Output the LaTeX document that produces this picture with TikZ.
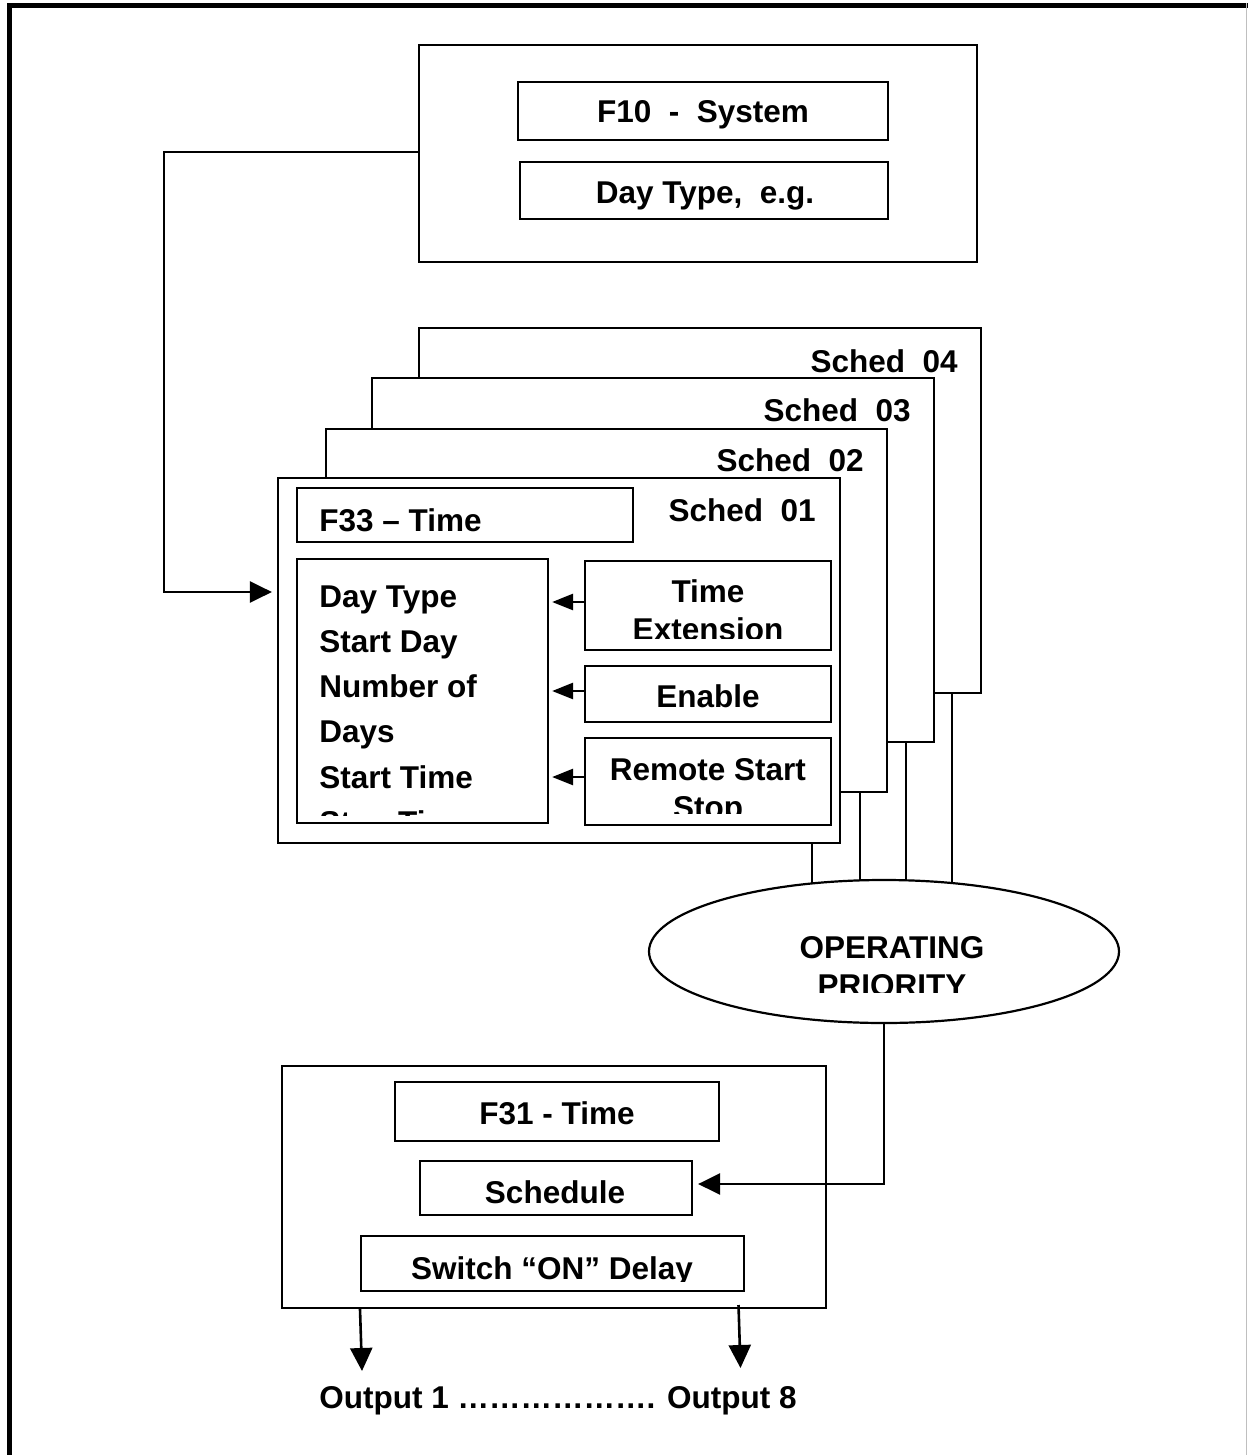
\documentclass[tikz,border=0pt]{standalone}
\usepackage{fontspec}
\setmainfont{Liberation Sans}
\usetikzlibrary{arrows.meta,fit,shapes.geometric}

\begin{document}
\begin{tikzpicture}[x=0.5pt,y=-0.5pt,
  box/.style={draw, line width=1.1pt, fill=white, inner sep=0pt},
  lbl/.style={font=\fontsize{15.75}{19}\selectfont\bfseries, inner sep=0pt},
  link/.style={line width=1.3pt},
  smalltip/.style={-{Triangle[length=10.5pt,width=8pt]}, shorten >=1.5pt},
  bigtip/.style={-{Triangle[length=11pt,width=10.5pt]}, shorten >=2.5pt},
  freetip/.style={-{Triangle[length=11.5pt,width=11pt]}}]

\useasboundingbox (0,0) rectangle (1248,1455);

% page frame
\draw[line width=2.5pt] (9.5,1460) -- (9.5,5.5) -- (1248,5.5);
\draw[black!25, line width=0.6pt] (1246.5,3) -- (1246.5,1455);

% F10 system block
\node[box, fit={(419,45) (977,262)}] (f10) {};
\node[box, fit={(518,82) (888,140)}] (f10a) {};
\node[lbl, anchor=base] (f10at) at (703,123) {F10~~-~~System};
\node[box, fit={(520,162) (888,219)}] (f10b) {};
\node[lbl, anchor=base] (f10bt) at (705,204) {Day Type,~~e.g.};

% stacked schedules, back to front
\node[box, fit={(419,328) (981,693)}] (s4) {};
\node[lbl, anchor=base east] (s4t) at (958,372) {Sched~~04};
\node[box, fit={(372,378) (934,742)}] (s3) {};
\node[lbl, anchor=base east] (s3t) at (911,421) {Sched~~03};
\node[box, fit={(326,429) (887,792)}] (s2) {};
\node[lbl, anchor=base east] (s2t) at (864,471) {Sched~~02};
\node[box, fit={(278,478) (840,843)}] (s1) {};
\node[lbl, anchor=base east] (s1t) at (816,521) {Sched~~01};

% contents of schedule 01
\node[box, fit={(297,488) (633,542)}] (f33) {};
\node[lbl, anchor=base west] (f33t) at (319,531) {F33 – Time};

\node[box, fit={(297,559) (548,823)}] (list) {};
\begin{scope}
  \clip (297,559) rectangle (548,815);
  \foreach \t [count=\i from 0] in {Day Type, Start Day, Number of, Days, Start Time, Stop Time}
    \node[lbl, anchor=base west] (ln\i) at (319,{607+45.3*\i}) {\t};
\end{scope}

\node[box, fit={(585,561) (831,650)}] (te) {};
\begin{scope}
  \clip (585,561) rectangle (831,638);
  \node[lbl, anchor=base] (te1) at (708,602) {Time};
  \node[lbl, anchor=base] (te2) at (708,640) {Extension};
\end{scope}

\node[box, fit={(585,666) (831,722)}] (en) {};
\node[lbl, anchor=base] (ent) at (708,707) {Enable};

\node[box, fit={(585,738) (831,825)}] (rs) {};
\begin{scope}
  \clip (585,738) rectangle (831,813);
  \node[lbl, anchor=base] (rs1) at (708,780) {Remote Start};
  \node[lbl, anchor=base] (rs2) at (708,818) {Stop};
\end{scope}

\draw[link, smalltip] (te.west |- 0,602) -- (list.east |- 0,602);
\draw[link, smalltip] (en.west |- 0,691) -- (list.east |- 0,691);
\draw[link, smalltip] (rs.west |- 0,777) -- (list.east |- 0,777);

% link from the system block into schedule 01
\draw[link, bigtip] (f10.west |- 0,152) -| (164,592) -- (s1.west |- 0,592);

% operating priority
\node[draw, ellipse, line width=1.1pt, fill=white, inner sep=0pt,
      minimum width=235pt, minimum height=71.5pt] (op) at (884,951.5) {};
\begin{scope}
  \clip (650,880) rectangle (1118,992);
  \node[lbl, anchor=base] (op1) at (892,958) {OPERATING};
  \node[lbl, anchor=base] (op2) at (892,996) {PRIORITY};
\end{scope}

\coordinate (e1) at (812,883.5);
\coordinate (e2) at (860,880.5);
\coordinate (e3) at (906,880.5);
\coordinate (e4) at (952,883);
\draw[link] (s1.south -| e1) -- (e1);
\draw[link] (s2.south -| e2) -- (e2);
\draw[link] (s3.south -| e3) -- (e3);
\draw[link] (s4.south -| e4) -- (e4);

% F31 time schedule block
\node[box, fit={(282,1066) (826,1308)}] (f31) {};
\node[box, fit={(395,1082) (719,1141)}] (f31a) {};
\node[lbl, anchor=base] (f31at) at (557,1124) {F31 - Time};
\node[box, fit={(420,1161) (692,1215)}] (sch) {};
\node[lbl, anchor=base] (scht) at (555,1203) {Schedule};
\node[box, fit={(361,1236) (744,1291)}] (sw) {};
\begin{scope}
  \clip (361,1236) rectangle (744,1281);
  \node[lbl, anchor=base] (swt) at (552,1279) {Switch “ON” Delay};
\end{scope}

\draw[link, bigtip] (op.south) |- (sch.east |- 0,1184);

% outputs
\coordinate (o1) at (362,1371);
\coordinate (o8) at (740.5,1368);
\draw[link, freetip] (f31.south -| 360,0) -- (o1);
\draw[link, freetip] (738.5,1305) -- (o8);
\node[lbl, anchor=base west] (out) at (319,1408) {Output 1 ………………. Output 8};

\end{tikzpicture}
\end{document}
